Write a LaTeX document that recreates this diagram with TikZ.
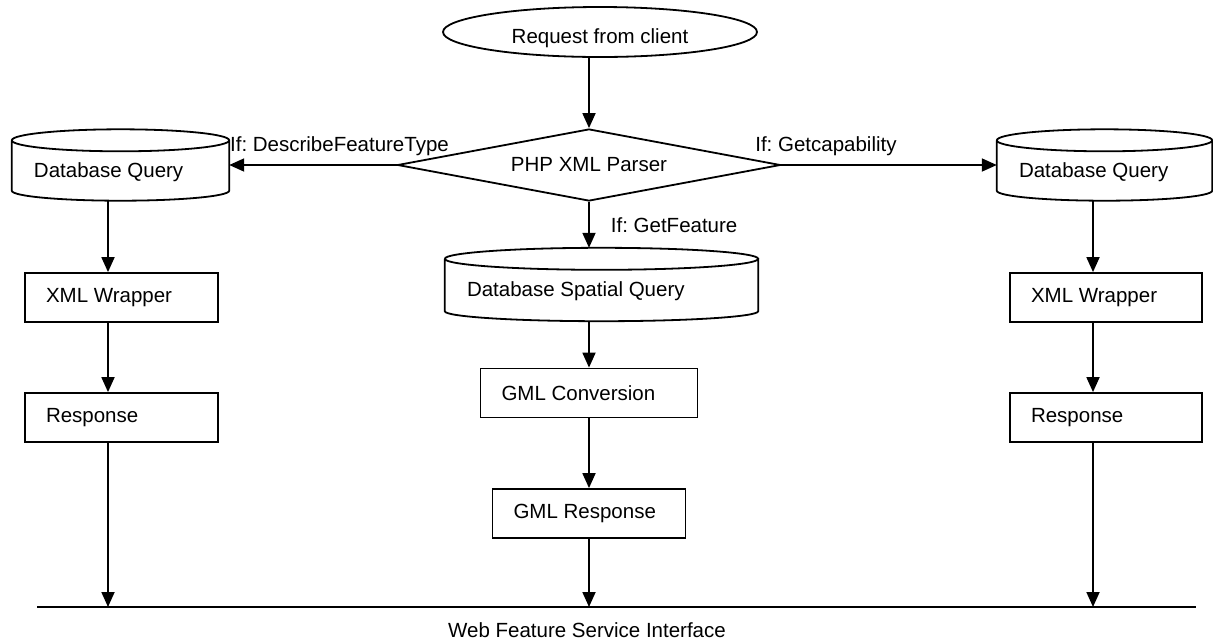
\documentclass[tikz,border=0pt]{standalone}
\usepackage{fontspec}
\setmainfont{Liberation Sans}
\frenchspacing
\usetikzlibrary{shapes.geometric,arrows.meta,calc}

% outline of a database drum round a rectangular node
\newcommand\drumoutline[1]{%
  \draw[edge] let \p1=(#1.north west), \p2=(#1.south east), \n1={(\x2-\x1)/2} in
    ([yshift=-11pt]#1.north west) -- ([yshift=10pt]#1.south west)
    arc[start angle=180, end angle=360, x radius=\n1, y radius=10pt]
    -- ([yshift=-11pt]#1.north east)
    ([yshift=-11pt]#1.north west)
    arc[start angle=180, end angle=-180, x radius=\n1, y radius=11pt];}

\begin{document}
\begin{tikzpicture}[x=1pt, y=-1pt,
  every node/.style={font=\fontsize{20.5}{24}\selectfont},
  edge/.style={line width=1.8pt},
  arr/.style={edge, -{Triangle[length=15pt, width=13pt]}},
  bus/.style={line width=2.6pt},
  box/.style={draw, line width=1.8pt, minimum height=49pt, inner xsep=21pt,
              text width=#1, align=flush left},
  drum/.style={minimum height=71pt, inner xsep=22pt, inner ysep=0pt,
               text width=#1, align=flush left, text height=28pt, text depth=3.4pt},
  cond/.style={inner sep=0pt, anchor=base west}]
  \useasboundingbox (0,0) rectangle (1213,641);

  % column lines of the two side branches
  \coordinate (colL) at (108,0);
  \coordinate (colR) at (1093,0);

  % top: request and parser
  \node[draw, ellipse, line width=1.8pt, inner sep=0pt, minimum width=314pt,
        minimum height=50pt, text height=27pt, text depth=3.4pt] (req) at (600,32) {Request from client};
  \node[draw, diamond, line width=1.8pt, inner sep=0pt, aspect=5.3,
        minimum width=383pt, minimum height=72pt] (pars) at (589,165) {PHP XML Parser};

  % database queries
  \node[drum=173pt] (dbL) at (120.5,165) {Database Query};
  \node[drum=171pt] (dbR) at (1104.5,165) {Database Query};
  \node[drum=269pt, minimum height=73pt] (dsq) at (601.5,284.5) {Database Spatial Query};
  \drumoutline{dbL}
  \drumoutline{dbR}
  \drumoutline{dsq}

  % processing boxes
  \node[box=151pt] (xwL) at (121.5,297.5) {XML Wrapper};
  \node[box=151pt] (rsL) at (121.5,417.5) {Response};
  \node[box=150pt] (xwR) at (1106,297.5) {XML Wrapper};
  \node[box=150pt] (rsR) at (1106,417.5) {Response};
  \node[box=175pt] (gmc) at (589,393) {GML Conversion};
  \node[box=151pt] (gmr) at (589,513.5) {GML Response};

  % interface bus
  \coordinate (busL) at (37,607);
  \coordinate (busR) at (1196,607);
  \draw[bus] (busL) -- (busR);
  \node (wfs) at (587,630) {Web Feature Service Interface};

  % connectors
  \draw[arr] (req.south -| pars.north) -- (pars.north);
  \draw[arr] (pars.west) -- (pars.west -| dbL.east)
    node[cond, pos=1, yshift=14pt] (cDesc) {If: DescribeFeatureType};
  \draw[arr] (pars.east) -- (pars.east -| dbR.west)
    node[cond, pos=0, xshift=-27pt, yshift=14pt] (cCap) {If: Getcapability};
  \draw[arr] (pars.south) -- (pars.south |- dsq.north)
    node[inner sep=0pt, midway, anchor=west, xshift=21pt] (cGet) {If: GetFeature};

  \draw[arr] (dbL.south -| colL) -- (xwL.north -| colL);
  \draw[arr] (xwL.south -| colL) -- (rsL.north -| colL);
  \draw[arr] (rsL.south -| colL) -- (busL -| colL);

  \draw[arr] (dbR.south -| colR) -- (xwR.north -| colR);
  \draw[arr] (xwR.south -| colR) -- (rsR.north -| colR);
  \draw[arr] (rsR.south -| colR) -- (busL -| colR);

  \draw[arr] (dsq.south -| gmc.north) -- (gmc.north);
  \draw[arr] (gmc.south) -- (gmr.north);
  \draw[arr] (gmr.south) -- (busL -| gmr.south);
\end{tikzpicture}
\end{document}
